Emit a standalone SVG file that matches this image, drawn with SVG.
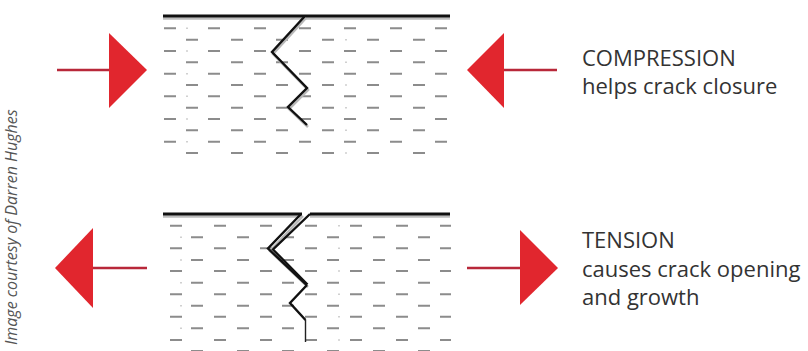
<svg xmlns="http://www.w3.org/2000/svg" width="808" height="351" viewBox="0 0 808 351">
  <style>
    .edge { stroke: #111; stroke-width: 3.2; fill: none; }
    .edge-shadow { stroke: #bcbcbc; stroke-width: 2.5; fill: none; }
    .crack { stroke: #111; stroke-width: 2.4; fill: none; stroke-linejoin: miter; }
    .crack-shadow { stroke: #b8b8b8; stroke-width: 2.5; fill: none; }
    .dash { stroke: #8c8c8c; stroke-width: 2; fill: none; }
    .dot { stroke: #d0d0d0; stroke-width: 1.5; fill: none; }
    .shaft { stroke: #b8283a; stroke-width: 2.6; fill: none; }
    .head { fill: #e1262e; }
    .label { font-family: "Open Sans", "Noto Sans", sans-serif; font-size: 22px; fill: #333; }
    .credit { font-family: "Open Sans", "Noto Sans", sans-serif; font-size: 16px; font-style: italic; fill: #555; }
  </style>

  <rect width="808" height="351" fill="#fff"/>

  <!-- Upper specimen: surface under compression -->
  <g id="block-compression">
    <path class="dash" d="
      M164,28.3h12 M208,28.3h12 M254,28.3h12 M299,28.3h12 M344,28.3h12 M390,28.3h12 M435,28.3h12
      M164,51h12 M208,51h12 M254,51h12 M299,51h12 M344,51h12 M390,51h12 M435,51h12
      M164,73.7h12 M208,73.7h12 M254,73.7h12 M299,73.7h12 M344,73.7h12 M390,73.7h12 M435,73.7h12
      M164,96.3h12 M208,96.3h12 M254,96.3h12 M299,96.3h12 M344,96.3h12 M390,96.3h12 M435,96.3h12
      M164,119h12 M208,119h12 M254,119h12 M299,119h12 M344,119h12 M390,119h12 M435,119h12
      M164,141.7h12 M208,141.7h12 M254,141.7h12 M299,141.7h12 M344,141.7h12 M390,141.7h12 M435,141.7h12
      M186,39.7h12 M231,39.7h12 M276,39.7h12 M322,39.7h12 M367,39.7h12 M413,39.7h12
      M186,62.3h12 M231,62.3h12 M276,62.3h12 M322,62.3h12 M367,62.3h12 M413,62.3h12
      M186,85h12 M231,85h12 M276,85h12 M322,85h12 M367,85h12 M413,85h12
      M186,107.7h12 M231,107.7h12 M276,107.7h12 M322,107.7h12 M367,107.7h12 M413,107.7h12
      M186,130.3h12 M231,130.3h12 M276,130.3h12 M322,130.3h12 M367,130.3h12 M413,130.3h12
      M186,153h12 M231,153h12 M276,153h12 M322,153h12 M367,153h12 M413,153h12"/>
    <path class="dot" d="
      M186,28.3h2 M186,51h2 M186,73.7h2 M186,96.3h2 M186,119h2 M186,141.7h2
      M345,39.7h2 M345,62.3h2 M345,85h2 M345,107.7h2 M345,130.3h2 M345,153h2"/>
    <line class="edge-shadow" x1="163" y1="18.5" x2="450" y2="18.5"/>
    <line class="edge" x1="163" y1="16" x2="450" y2="16"/>
    <polyline class="crack-shadow" points="306,18 273,54 308,90 289,109 308,127"/>
    <polyline class="crack" points="305,16 272,52 307,88 288,107 307,125"/>
  </g>

  <!-- Lower specimen: surface under tension -->
  <g id="block-tension">
    <path class="dash" d="
      M170,225.7h12 M214,225.7h12 M260,225.7h12 M305,225.7h12 M350,225.7h12 M396,225.7h12 M440,225.7h11
      M170,248.3h12 M214,248.3h12 M260,248.3h12 M305,248.3h12 M350,248.3h12 M396,248.3h12 M440,248.3h11
      M170,271h12 M214,271h12 M260,271h12 M305,271h12 M350,271h12 M396,271h12 M440,271h11
      M170,294.3h12 M214,294.3h12 M260,294.3h12 M305,294.3h12 M350,294.3h12 M396,294.3h12 M440,294.3h11
      M170,316.7h12 M214,316.7h12 M260,316.7h12 M305,316.7h12 M350,316.7h12 M396,316.7h12 M440,316.7h11
      M170,340h12 M214,340h12 M260,340h12 M305,340h12 M350,340h12 M396,340h12 M440,340h11
      M191,237.3h12 M237,237.3h12 M282,237.3h12 M327,237.3h12 M373,237.3h12 M418,237.3h12
      M191,260h12 M237,260h12 M282,260h12 M327,260h12 M373,260h12 M418,260h12
      M191,282.7h12 M237,282.7h12 M282,282.7h12 M327,282.7h12 M373,282.7h12 M418,282.7h12
      M191,305.7h12 M237,305.7h12 M282,305.7h12 M327,305.7h12 M373,305.7h12 M418,305.7h12
      M191,328.3h12 M237,328.3h12 M282,328.3h12 M327,328.3h12 M373,328.3h12 M418,328.3h12
      M191,351h12 M237,351h12 M282,351h12 M327,351h12 M373,351h12 M418,351h12"/>
    <path class="dot" d="
      M180,237.3h2 M180,260h2 M180,282.7h2 M180,305.7h2 M180,328.3h2
      M338,225.7h2 M338,248.3h2 M338,271h2 M338,294.3h2 M338,316.7h2 M338,340h2"/>
    <line class="edge-shadow" x1="163" y1="216.5" x2="302" y2="216.5"/>
    <line class="edge-shadow" x1="310" y1="216.5" x2="450" y2="216.5"/>
    <line class="edge" x1="163" y1="214" x2="302" y2="214"/>
    <line class="edge" x1="310" y1="214" x2="450" y2="214"/>
    <!-- open crack: two faces that close up further down -->
    <polyline class="crack-shadow" points="303,216 270,251 308,287"/>
    <polyline class="crack" points="301,214 268,248.5 306.5,285"/>
    <polyline class="crack" points="310,214 273,249.5 307.5,284.5"/>
    <polyline class="crack" points="307,285 290,303 305.5,320"/>
    <line x1="305.5" y1="320" x2="305.5" y2="342" stroke="#222" stroke-width="1.4"/>
  </g>

  <!-- Load arrows -->
  <g id="connectors">
    <g id="arrow-compression-left">
      <line class="shaft" x1="57" y1="70" x2="110" y2="70"/>
      <polygon class="head" points="109,33 147,70 109,108"/>
    </g>
    <g id="arrow-compression-right">
      <line class="shaft" x1="504" y1="70" x2="557" y2="70"/>
      <polygon class="head" points="504,33 467,70 504,108"/>
    </g>
    <g id="arrow-tension-left">
      <line class="shaft" x1="93" y1="268" x2="147" y2="268"/>
      <polygon class="head" points="93,228 55,268 93,308"/>
    </g>
    <g id="arrow-tension-right">
      <line class="shaft" x1="467" y1="268" x2="520" y2="268"/>
      <polygon class="head" points="520,230 558,268 520,305"/>
    </g>
  </g>

  <g id="label-compression">
    <text class="label" x="582" y="66">COMPRESSION</text>
    <text class="label" x="582" y="94">helps crack closure</text>
  </g>

  <g id="label-tension">
    <text class="label" x="582" y="248">TENSION</text>
    <text class="label" x="582" y="277">causes crack opening</text>
    <text class="label" x="582" y="305">and growth</text>
  </g>

  <g id="credit">
    <text class="credit" transform="translate(17,345) rotate(-90)">Image courtesy of Darren Hughes</text>
  </g>
</svg>
